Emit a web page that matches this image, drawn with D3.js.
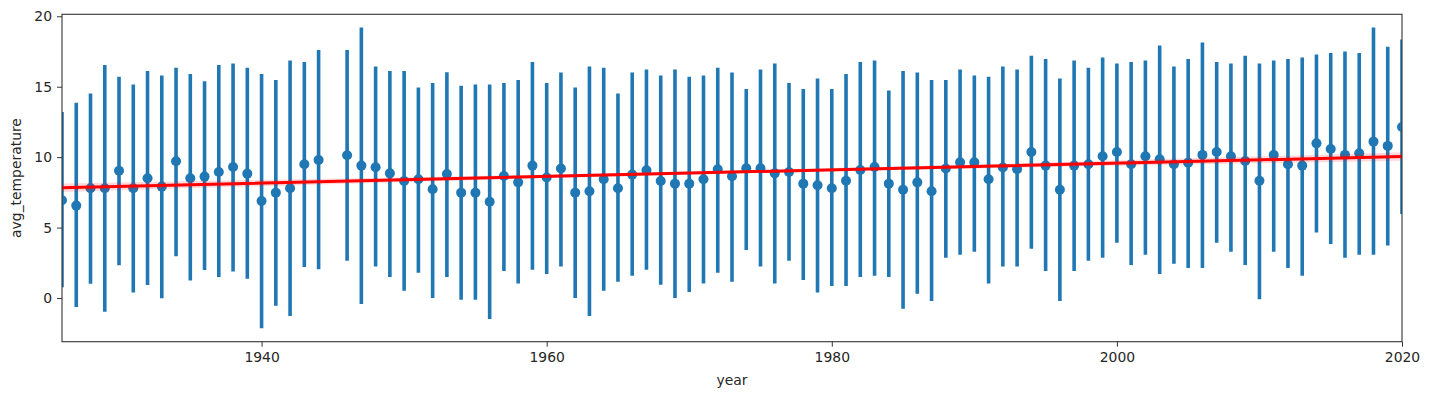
<!DOCTYPE html>
<html>
<head>
<meta charset="utf-8">
<script src="https://cdn.jsdelivr.net/npm/d3@7"></script>
<style>
  body { margin: 0; background: #fff; }
  text { font-family: "DejaVu Sans", sans-serif; }
</style>
</head>
<body>
<svg id="chart"></svg>
<script>
// yearly mean temperature with spread (low / high end of each bar)
var years = [1926,1927,1928,1929,1930,1931,1932,1933,1934,1935,1936,1937,1938,1939,1940,1941,1942,1943,1944,
  1946,1947,1948,1949,1950,1951,1952,1953,1954,1955,1956,1957,1958,1959,1960,1961,1962,1963,1964,1965,1966,1967,1968,1969,
  1970,1971,1972,1973,1974,1975,1976,1977,1978,1979,1980,1981,1982,1983,1984,1985,1986,1987,1988,1989,1990,1991,1992,1993,1994,
  1995,1996,1997,1998,1999,2000,2001,2002,2003,2004,2005,2006,2007,2008,2009,2010,2011,2012,2013,2014,2015,2016,2017,2018,2019,2020];
var means = [6.94,6.56,7.79,7.79,9.04,7.79,8.50,7.91,9.71,8.50,8.62,8.95,9.30,8.83,6.89,7.48,7.79,9.49,9.80,
  10.13,9.40,9.28,8.85,8.31,8.43,7.72,8.81,7.48,7.48,6.84,8.66,8.21,9.40,8.55,9.19,7.48,7.58,8.43,7.79,8.76,9.07,8.31,8.12,
  8.12,8.43,9.14,8.64,9.21,9.21,8.85,8.95,8.12,8.00,7.79,8.33,9.09,9.30,8.12,7.69,8.21,7.58,9.19,9.64,9.64,8.43,9.26,9.14,10.37,
  9.40,7.69,9.40,9.49,10.06,10.37,9.49,10.06,9.85,9.49,9.61,10.16,10.37,10.06,9.73,8.33,10.16,9.49,9.40,10.98,10.58,10.16,10.27,11.10,10.80,12.14];
var lows = [0.76,-0.64,1.02,-0.97,2.32,0.40,0.92,-0.02,2.96,1.25,1.99,1.49,1.89,1.37,-2.15,-0.54,-1.28,2.20,2.04,
  2.65,-0.43,2.23,1.49,0.52,1.80,0.00,1.49,-0.12,-0.12,-1.49,1.92,1.04,2.01,1.70,2.23,0.00,-1.28,0.52,1.16,1.59,2.01,0.95,0.00,
  0.43,1.04,1.80,1.16,3.41,2.23,1.04,2.65,1.28,0.40,0.85,0.85,1.49,1.59,1.49,-0.76,0.31,-0.21,2.86,3.08,3.29,1.04,2.23,2.23,3.50,
  1.92,-0.21,1.92,2.65,2.86,3.93,2.34,3.08,1.70,2.44,2.13,2.13,3.93,3.29,2.34,-0.09,3.29,2.13,1.59,4.66,3.84,2.86,3.08,3.08,3.72,5.97];
var highs = [13.20,13.87,14.51,16.55,15.70,15.15,16.12,15.79,16.34,15.91,15.39,16.55,16.64,16.34,15.91,15.48,16.86,16.76,17.61,
  17.61,19.20,16.43,16.12,16.12,14.94,15.27,16.03,15.06,15.15,15.15,15.27,15.48,16.76,15.27,16.00,14.94,16.43,16.34,14.51,16.00,16.22,15.79,16.22,
  15.70,15.79,16.34,16.00,14.84,16.22,16.64,15.27,14.84,15.58,14.84,15.91,16.76,16.86,14.73,16.12,16.00,15.48,15.48,16.22,15.79,15.70,16.43,16.22,17.19,
  16.97,15.58,16.86,16.34,17.07,16.64,16.76,16.86,17.92,16.43,16.97,18.13,16.76,16.64,17.19,16.64,16.86,16.97,17.07,17.28,17.40,17.50,17.40,19.20,17.83,18.35];

// regression line read at the ends, with the narrow confidence band
var trendYears = [1926, 1973, 2020];
var trendValues = [7.83, 8.94, 10.04];
var trendBand = [0.30, 0.12, 0.30];

var xTicks = [1940, 1960, 1980, 2000, 2020];
var yTicks = [0, 5, 10, 15, 20];

var width = 1431, height = 397;
var margin = {top: 14.3, right: 29, bottom: 55.3, left: 62};
var innerW = width - margin.left - margin.right,
    innerH = height - margin.top - margin.bottom;

var svg = d3.select("#chart")
  .attr("width", width)
  .attr("height", height);

var g = svg.append("g")
  .attr("transform", "translate(" + margin.left + "," + margin.top + ")");

var x = d3.scaleLinear().domain([1926, 2020]).range([0, innerW]);
var y = d3.scaleLinear().domain([-3.1, 20.14]).range([innerH, 0]);

g.append("clipPath").attr("id", "plotclip")
  .append("rect").attr("width", innerW).attr("height", innerH);

var plot = g.append("g").attr("clip-path", "url(#plotclip)");

var rows = years.map(function(d, i) {
  return {year: d, mean: means[i], low: lows[i], high: highs[i]};
});

// error bars
plot.selectAll("line.err")
  .data(rows)
  .enter()
  .append("line")
  .attr("class", "err")
  .attr("x1", function(d) { return x(d.year); })
  .attr("x2", function(d) { return x(d.year); })
  .attr("y1", function(d) { return y(d.low); })
  .attr("y2", function(d) { return y(d.high); })
  .attr("stroke", "#1f77b4")
  .attr("stroke-width", 3.6);

// points
plot.selectAll("circle")
  .data(rows)
  .enter()
  .append("circle")
  .attr("cx", function(d) { return x(d.year); })
  .attr("cy", function(d) { return y(d.mean); })
  .attr("r", 5)
  .attr("fill", "#1f77b4");

// regression band + line
var trend = trendYears.map(function(d, i) {
  return {year: d, v: trendValues[i], b: trendBand[i]};
});

plot.append("path")
  .datum(trend)
  .attr("d", d3.area()
    .curve(d3.curveMonotoneX)
    .x(function(d) { return x(d.year); })
    .y0(function(d) { return y(d.v - d.b); })
    .y1(function(d) { return y(d.v + d.b); }))
  .attr("fill", "red")
  .attr("fill-opacity", 0.15);

plot.append("path")
  .datum(trend)
  .attr("d", d3.line()
    .x(function(d) { return x(d.year); })
    .y(function(d) { return y(d.v); }))
  .attr("fill", "none")
  .attr("stroke", "red")
  .attr("stroke-width", 3);

// axes
var xAxis = g.append("g")
  .attr("transform", "translate(0," + innerH + ")")
  .call(d3.axisBottom(x).tickValues(xTicks).tickFormat(d3.format("d")).tickSize(5).tickPadding(5));

var yAxis = g.append("g")
  .call(d3.axisLeft(y).tickValues(yTicks).tickSize(5).tickPadding(5));

[xAxis, yAxis].forEach(function(a) {
  a.select(".domain").remove();
  a.selectAll("line").attr("stroke", "#333");
  a.selectAll("text")
    .style("font-family", "DejaVu Sans, sans-serif")
    .style("font-size", "13.9px")
    .attr("fill", "#262626");
});

// frame
g.append("rect")
  .attr("width", innerW)
  .attr("height", innerH)
  .attr("fill", "none")
  .attr("stroke", "#333")
  .attr("stroke-width", 1.1);

// axis labels
svg.append("text")
  .attr("text-anchor", "middle")
  .attr("x", margin.left + innerW / 2)
  .attr("y", 385)
  .text("year")
  .style("font-size", "13.9px")
  .style("fill", "#262626");

svg.append("text")
  .attr("text-anchor", "middle")
  .attr("transform", "translate(21," + (margin.top + innerH / 2) + ")rotate(-90)")
  .text("avg_temperature")
  .style("font-size", "13.9px")
  .style("fill", "#262626");
</script>
</body>
</html>
